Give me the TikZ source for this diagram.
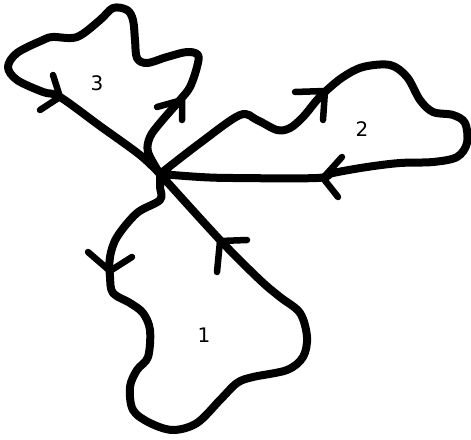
\documentclass[tikz,border=0pt]{standalone}
\usepackage{fontspec}
\setmainfont{DejaVu Sans}
\begin{document}
\begin{tikzpicture}[x=1pt,y=-1pt,
  loopline/.style={line width=8pt,line cap=round,line join=round,black},
  barb/.style={line width=6.5pt,line cap=round,line join=round,black},
  lbl/.style={font=\fontsize{20}{24}\selectfont,inner sep=0pt}]
\useasboundingbox (0,0) rectangle (471,439);
\coordinate (O) at (160,174);
% loop 3
\draw[loopline] plot[smooth,tension=0.55] coordinates {(160,174) (148,152) (150,137) (160,123) (180,100) (190,87) (197,67) (198,55) (187,52) (167,57) (147,63) (137,58) (135,40) (133,20) (127,10) (113,8) (100,20) (77,37) (53,37) (43,40) (17,53) (8,67) (17,80) (43,92) (60,97) (100,126) (140,155) (160,174)};
% loop 2
\draw[loopline] plot[smooth,tension=0.55] coordinates {(160,174) (200,143) (240,115) (257,120) (277,130) (290,128) (303,117) (317,100) (327,90) (343,77) (363,67) (390,65) (407,77) (420,100) (433,112) (453,115) (465,123) (467,143) (457,157) (433,162) (400,163) (367,167) (333,173) (317,178) (233,178) (200,177) (160,174)};
% loop 1
\draw[loopline] plot[smooth,tension=0.55] coordinates {(160,174) (160,187) (160,200) (137,213) (117,237) (110,257) (110,277) (113,293) (130,303) (143,313) (150,330) (148,357) (137,370) (130,387) (133,410) (150,423) (173,430) (197,423) (220,400) (237,383) (253,377) (287,370) (303,357) (307,337) (300,313) (280,297) (260,280) (220,240) (160,174)};
% arrow barbs
\coordinate (t3a) at (60,97);
\coordinate (t3b) at (182,100);
\coordinate (t2a) at (325,91);
\coordinate (t2b) at (323,178);
\coordinate (t1a) at (220,241);
\coordinate (t1b) at (110,271);
\draw[barb] (53,75) -- (t3a) -- (40,110);
\draw[barb] (157,107) -- (t3b) -- (182,120);
\draw[barb] (295,92) -- (t2a) -- (323,120);
\draw[barb] (342,157) -- (t2b) -- (338,197);
\draw[barb] (247,240) -- (t1a) -- (217,272);
\draw[barb] (88,252) -- (t1b) -- (132,257);
% labels
\node[lbl] (n3) at (97,83) {3};
\node[lbl] (n2) at (362,129) {2};
\node[lbl] (n1) at (204,335) {1};
\end{tikzpicture}
\end{document}
